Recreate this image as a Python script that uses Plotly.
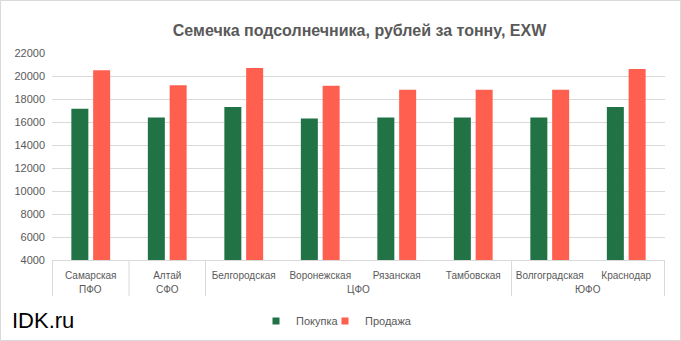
import plotly.graph_objects as go

districts = ["ПФО", "СФО", "ЦФО", "ЦФО", "ЦФО", "ЦФО", "ЮФО", "ЮФО"]
regions = ["Самарская", "Алтай", "Белгородская", "Воронежская", "Рязанская",
           "Тамбовская", "Волгоградская", "Краснодар"]
buy = [17150, 16400, 17300, 16300, 16400, 16400, 16400, 17300]
sell = [20500, 19200, 20700, 19150, 18800, 18800, 18800, 20600]
series = [("Покупка", buy, "#217346"), ("Продажа", sell, "#FF5F4F")]

W, H = 681, 341
L, R, T, B = 52, 16, 53, 81
PW, PH = W - L - R, H - T - B
BOT = T + PH  # pixel row of the x axis


def py(px):
    """paper y for a pixel row below/above the plot"""
    return (BOT - px) / PH


def pxx(px):
    """paper x for a pixel column"""
    return (px - L) / PW


fig = go.Figure()
for name, vals, col in series:
    fig.add_trace(go.Bar(name=name, x=regions, y=vals, showlegend=False,
                         marker=dict(color=col, line=dict(width=0))))
# legend proxies with small square swatches, one legend box each
legend_ids = ["legend", "legend2"]
for (name, vals, col), lid in zip(series, legend_ids):
    fig.add_trace(go.Scatter(name=name, x=[None], y=[None], mode="markers",
                             marker=dict(symbol="square", size=7, color=col),
                             showlegend=True, hoverinfo="skip", legend=lid))

leg_common = dict(orientation="h", xanchor="left", y=py(321),
                  yanchor="middle", font=dict(size=11, color="#595959"),
                  itemwidth=30, bgcolor="rgba(0,0,0,0)")

fig.update_layout(
    width=W, height=H,
    margin=dict(l=L, r=R, t=T, b=B, autoexpand=False),
    paper_bgcolor="white", plot_bgcolor="white",
    barmode="group", bargap=0.43, bargroupgap=0.22,
    font=dict(family="Liberation Sans, Arial, sans-serif", color="#595959"),
    title=dict(text="<b>Семечка подсолнечника, рублей за тонну, EXW</b>",
               x=0.528, xanchor="center", y=1 - 30 / H, yanchor="middle",
               font=dict(size=16, color="#595959",
                         family="Liberation Sans Narrow, Liberation Sans, Arial")),
    legend=dict(x=pxx(256), **leg_common),
    legend2=dict(x=pxx(325), **leg_common),
    showlegend=True,
)
fig.update_xaxes(type="category", showline=True, linecolor="#d9d9d9",
                 linewidth=1, tickfont=dict(size=10, color="#595959"),
                 showgrid=False, ticks="", ticklabelstandoff=6,
                 automargin=False)
fig.update_yaxes(range=[4000, 22000], dtick=2000, showgrid=True,
                 tickformat="d", automargin=False,
                 gridcolor="#d9d9d9", gridwidth=1, zeroline=False,
                 tickfont=dict(size=11, color="#595959"), ticks="",
                 ticklabelstandoff=6)

# group (district) labels and dividers on the category axis
groups = []
for i, d in enumerate(districts):
    if groups and groups[-1][0] == d:
        groups[-1][2] = i
    else:
        groups.append([d, i, i])
bounds = [groups[0][1] - 0.5] + [g[2] + 0.5 for g in groups]
for bx in bounds:
    fig.add_shape(type="line", xref="x", yref="paper", x0=bx, x1=bx,
                  y0=0, y1=py(296), line=dict(color="#d9d9d9", width=1))
for name, a, b in groups:
    fig.add_annotation(text=name, xref="x", yref="paper", x=(a + b) / 2,
                       y=py(289), yanchor="middle", showarrow=False,
                       font=dict(size=10, color="#595959"))

fig.add_annotation(text="IDK.ru", xref="paper", yref="paper",
                   x=pxx(10), xanchor="left",
                   y=py(320), yanchor="middle", showarrow=False,
                   font=dict(size=22, color="#000000",
                             family="Liberation Sans, Arial"))
fig.add_shape(type="rect", xref="paper", yref="paper",
              x0=pxx(0.5), x1=pxx(W - 0.5),
              y0=py(H - 0.5), y1=py(0.5),
              line=dict(color="#d9d9d9", width=1), fillcolor="rgba(0,0,0,0)",
              layer="below")

fig.write_html("out.html")
